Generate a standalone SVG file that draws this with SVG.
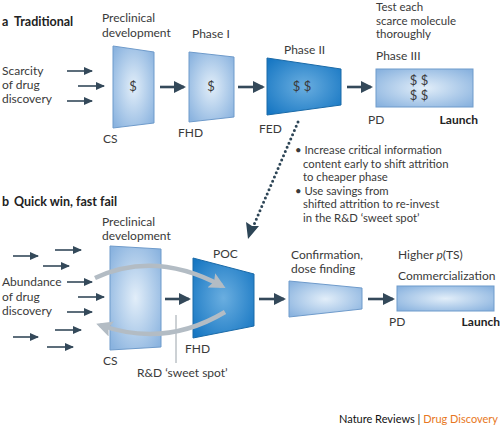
<svg xmlns="http://www.w3.org/2000/svg" width="500" height="427" viewBox="0 0 500 427">
<style>
text{font-family:Lato,"Open Sans","Liberation Sans",sans-serif;font-size:12px;fill:#3a3a3a}
.b{font-weight:bold;fill:#222}
.h{font-weight:bold;font-size:12.5px;fill:#222}
.n{font-size:11.3px}
.t{font-size:11.5px}
.light{fill:url(#gl);stroke:#6f9bcb;stroke-width:1}
.dark{fill:url(#gd);stroke:#1a6aa8;stroke-width:1}
.sa{stroke:#34495a;stroke-width:1.6;fill:none}
.la{stroke:#34495a;stroke-width:2.6;fill:none}
.gray{stroke:#b3bcc4;stroke-width:4.5;fill:none}
.d{fill:#3a3a3a;font-size:13px}
</style>
<defs>
<radialGradient id="gl" cx="0.5" cy="0.5" r="0.65">
<stop offset="0" stop-color="#e2eef9"/>
<stop offset="1" stop-color="#8ab3df"/>
</radialGradient>
<radialGradient id="gd" cx="0.5" cy="0.5" r="0.65">
<stop offset="0" stop-color="#6aaee0"/>
<stop offset="1" stop-color="#1777c3"/>
</radialGradient>
<marker id="ms" markerUnits="userSpaceOnUse" markerWidth="9" markerHeight="8" refX="8" refY="4" orient="auto">
<path d="M0,0 L9,4 L0,8 z" fill="#34495a"/>
</marker>
<marker id="ml" markerUnits="userSpaceOnUse" markerWidth="12" markerHeight="12" refX="10" refY="6" orient="auto">
<path d="M0,0 L12,6 L0,12 z" fill="#34495a"/>
</marker>
<marker id="mg" markerUnits="userSpaceOnUse" markerWidth="16" markerHeight="16" refX="12" refY="8" orient="auto">
<path d="M0,0 L16,8 L0,16 L3,8 z" fill="#b3bcc4"/>
</marker>
</defs>

<!-- Section labels -->
<g id="title-a"><text x="2" y="26" class="h">a</text><text x="14" y="26" class="h">Traditional</text></g>
<g id="title-b"><text x="2" y="206" class="h">b</text><text x="14" y="206" class="h">Quick win, fast fail</text></g>

<g id="source-a">
<text x="2" y="75">Scarcity</text><text x="2" y="89">of drug</text><text x="2" y="103">discovery</text>
</g>

<g id="a-preclinical">
<text x="102" y="22">Preclinical</text><text x="102" y="37">development</text>
<polygon class="light" points="113,46 154,52 154,123 113,128"/>
<text x="133" y="91" class="d" text-anchor="middle">$</text>
<text x="103" y="143">CS</text>
</g>
<g id="a-phase1">
<text x="192" y="38">Phase I</text>
<polygon class="light" points="189,52 234,57 234,117 189,122"/>
<text x="211" y="91" class="d" text-anchor="middle">$</text>
<text x="178" y="137">FHD</text>
</g>
<g id="a-phase2">
<text x="284" y="54">Phase II</text>
<polygon class="dark" points="267,58 341,69 341,105 267,115"/>
<text x="302" y="91" class="d" text-anchor="middle">$ $</text>
<text x="259" y="133">FED</text>
</g>
<g id="a-phase3">
<text x="376" y="11" class="t">Test each</text><text x="376" y="24.5" class="t">scarce molecule</text><text x="376" y="38" class="t">thoroughly</text>
<text x="376" y="60">Phase III</text>
<rect class="light" x="376" y="69" width="97" height="38"/>
<text x="419" y="85" class="d" text-anchor="middle">$  $</text>
<text x="419" y="100" class="d" text-anchor="middle">$  $</text>
<text x="368" y="124">PD</text>
<text x="478" y="124" class="b" text-anchor="end">Launch</text>
</g>

<g id="note">
<text x="295" y="154" class="n">• Increase critical information</text>
<text x="303" y="167.5" class="n">content early to shift attrition</text>
<text x="303" y="181" class="n">to cheaper phase</text>
<text x="295" y="194.5" class="n">• Use savings from</text>
<text x="303" y="208" class="n">shifted attrition to re-invest</text>
<text x="303" y="221.5" class="n">in the R&amp;D ‘sweet spot’</text>
</g>

<g id="source-b">
<text x="2" y="286">Abundance</text><text x="2" y="301">of drug</text><text x="2" y="315">discovery</text>
</g>

<g id="b-preclinical">
<text x="102" y="226">Preclinical</text><text x="102" y="240">development</text>
<polygon class="light" points="110,246 161,249 161,347 110,350"/>
<text x="103" y="365">CS</text>
</g>
<g id="b-poc">
<text x="213" y="258">POC</text>
<polygon class="dark" points="193,258 254,274 254,326 193,338"/>
<text x="185" y="353">FHD</text>
</g>
<g id="b-sweetspot">
<line x1="176" y1="315" x2="176" y2="363" stroke="#9aa3aa" stroke-width="1"/>
<text x="137" y="377">R&amp;D ‘sweet spot’</text>
</g>
<g id="b-confirmation">
<text x="291" y="259">Confirmation,</text><text x="291" y="273">dose finding</text>
<polygon class="light" points="289,281 362,288 362,309 289,317"/>
</g>
<g id="b-commercialization">
<text x="398" y="259">Higher <tspan font-style="italic">p</tspan>(TS)</text>
<text x="398" y="280">Commercialization</text>
<rect class="light" x="397" y="286" width="97" height="25"/>
<text x="389" y="326">PD</text>
<text x="500" y="326" class="b" text-anchor="end">Launch</text>
</g>

<g id="connectors">
<!-- a inputs -->
<line class="sa" x1="67" y1="71" x2="92" y2="71" marker-end="url(#ms)"/>
<line class="sa" x1="78" y1="86" x2="104" y2="86" marker-end="url(#ms)"/>
<line class="sa" x1="67" y1="101" x2="92" y2="101" marker-end="url(#ms)"/>
<line class="la" x1="160" y1="87" x2="184" y2="87" marker-end="url(#ml)"/>
<line class="la" x1="238" y1="87" x2="263" y2="87" marker-end="url(#ml)"/>
<line class="la" x1="347" y1="87" x2="371" y2="87" marker-end="url(#ml)"/>
<!-- dotted -->
<line x1="298" y1="122" x2="253" y2="227" stroke="#2d4556" stroke-width="3" stroke-linecap="round" stroke-dasharray="0 4.6"/>
<polygon points="248,239 246,222 252,226 259,226" fill="#2d4556"/>
<!-- b inputs -->
<line class="sa" x1="13" y1="256" x2="38" y2="256" marker-end="url(#ms)"/>
<line class="sa" x1="55" y1="250" x2="81" y2="250" marker-end="url(#ms)"/>
<line class="sa" x1="43" y1="266" x2="69" y2="266" marker-end="url(#ms)"/>
<line class="sa" x1="67" y1="282" x2="92" y2="282" marker-end="url(#ms)"/>
<line class="sa" x1="78" y1="297" x2="104" y2="297" marker-end="url(#ms)"/>
<line class="sa" x1="67" y1="312" x2="92" y2="312" marker-end="url(#ms)"/>
<line class="sa" x1="55" y1="330" x2="81" y2="330" marker-end="url(#ms)"/>
<line class="sa" x1="13" y1="337" x2="38" y2="337" marker-end="url(#ms)"/>
<line class="sa" x1="47" y1="347" x2="73" y2="347" marker-end="url(#ms)"/>
<line class="la" x1="165" y1="299" x2="189" y2="299" marker-end="url(#ml)"/>
<line class="la" x1="259" y1="299" x2="284" y2="299" marker-end="url(#ml)"/>
<line class="la" x1="368" y1="299" x2="393" y2="299" marker-end="url(#ml)"/>
<!-- gray loop -->
<path class="gray" d="M95,278 Q155,250 222,286" marker-end="url(#mg)"/>
<path class="gray" d="M225,312 Q165,348 100,325" marker-end="url(#mg)"/>
</g>

<g id="footer">
<text x="498" y="423" text-anchor="end" style="font-size:11px"><tspan fill="#111">Nature Reviews | </tspan><tspan fill="#e87722">Drug Discovery</tspan></text>
</g>
</svg>
